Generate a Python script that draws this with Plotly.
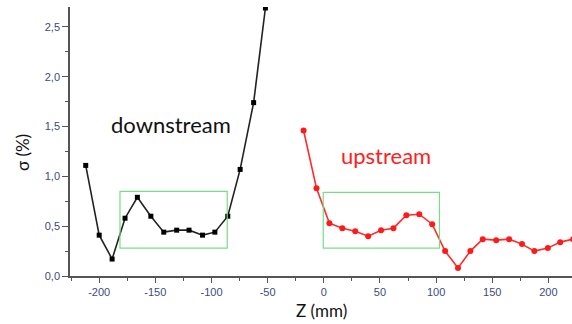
import plotly.graph_objects as go

# Downstream (black)
down_z = [-212, -200, -188.5, -177, -166, -154, -142.5, -131, -120, -108, -97, -85.5, -74.5, -62.5, -52]
down_sigma = [1.11, 0.41, 0.17, 0.58, 0.79, 0.60, 0.44, 0.46, 0.46, 0.41, 0.44, 0.60, 1.07, 1.74, 2.69]

# Upstream (red)
up_z = [-18, -6.5, 5, 16.5, 28, 39.5, 51, 62, 73.5, 85, 96.5, 108, 119.5, 130.5, 141.5, 153.5, 165, 176.5, 187.5, 199.5, 210.5, 222]
up_sigma = [1.46, 0.88, 0.53, 0.48, 0.45, 0.40, 0.46, 0.48, 0.61, 0.62, 0.52, 0.25, 0.08, 0.25, 0.37, 0.36, 0.37, 0.32, 0.25, 0.28, 0.34, 0.37]

# Highlight boxes: (z0, z1, sigma0, sigma1)
boxes = [(-181.5, -86, 0.28, 0.85), (-0.5, 103, 0.28, 0.84)]

x_tickvals = [-200, -150, -100, -50, 0, 50, 100, 150, 200]
x_ticktext = ["-200", "-150", "-100", "-50", "0", "50", "100", "150", "200"]
y_tickvals = [0.0, 0.5, 1.0, 1.5, 2.0, 2.5]
y_ticktext = ["0,0", "0,5", "1,0", "1,5", "2,0", "2,5"]

label_color = "#3d4a7d"
axis_color = "#555555"

fig = go.Figure()
fig.add_trace(go.Scatter(
    x=down_z, y=down_sigma, mode="lines+markers",
    line=dict(color="#222222", width=1.6),
    marker=dict(symbol="square", size=5, color="#000000"),
    name="downstream", showlegend=False,
))
fig.add_trace(go.Scatter(
    x=up_z, y=up_sigma, mode="lines+markers",
    line=dict(color="#ff2a2a", width=1.6),
    marker=dict(symbol="circle", size=6, color="#ff1a1a"),
    name="upstream", showlegend=False,
))

for z0, z1, s0, s1 in boxes:
    fig.add_shape(type="rect", xref="x", yref="y", x0=z0, x1=z1, y0=s0, y1=s1,
                  line=dict(color="#77dd88", width=1.2), fillcolor="rgba(0,0,0,0)")

fig.add_annotation(x=-136, y=1.52, xref="x", yref="y", text="downstream",
                   showarrow=False, font=dict(family="Lato, sans-serif", size=22, color="#111111"))
fig.add_annotation(x=55.5, y=1.21, xref="x", yref="y", text="upstream",
                   showarrow=False, font=dict(family="Lato, sans-serif", size=22, color="#ff2020"))
fig.add_annotation(x=-0.0956, y=0.457, xref="paper", yref="paper", text="σ (%)",
                   textangle=-90, showarrow=False, xanchor="center", yanchor="middle",
                   font=dict(family="Lato, sans-serif", size=17, color="#111111"))
fig.add_annotation(x=0.5, y=-0.13, xref="paper", yref="paper", text="Z (mm)",
                   showarrow=False, xanchor="center", yanchor="middle",
                   font=dict(family="Lato, sans-serif", size=17, color="#111111"))

fig.update_layout(
    width=572, height=324,
    margin=dict(l=70, r=0, t=7, b=48),
    paper_bgcolor="white", plot_bgcolor="white",
    font=dict(family="Liberation Sans, Arial, sans-serif"),
    xaxis=dict(
        range=[-226, 221], showgrid=False, zeroline=False, automargin=False,
        showline=True, linecolor=axis_color, linewidth=1.5,
        ticks="outside", ticklen=5, tickwidth=1.2, tickcolor=axis_color,
        tickvals=x_tickvals, ticktext=x_ticktext,
        tickfont=dict(size=11, color=label_color),
        minor=dict(dtick=25, tick0=0, ticks="outside", ticklen=3, tickcolor=axis_color, showgrid=False),
    ),
    yaxis=dict(
        range=[0, 2.70], showgrid=False, zeroline=False, automargin=False,
        showline=True, linecolor=axis_color, linewidth=1.5,
        ticks="outside", ticklen=6, tickwidth=1.2, tickcolor=axis_color,
        tickvals=y_tickvals, ticktext=y_ticktext,
        tickfont=dict(size=11, color=label_color),
        minor=dict(dtick=0.25, tick0=0, ticks="outside", ticklen=3, tickcolor=axis_color, showgrid=False),
    ),
)

fig.write_html("out.html", config={"displayModeBar": False},
               post_script="document.body.style.margin='0';")
